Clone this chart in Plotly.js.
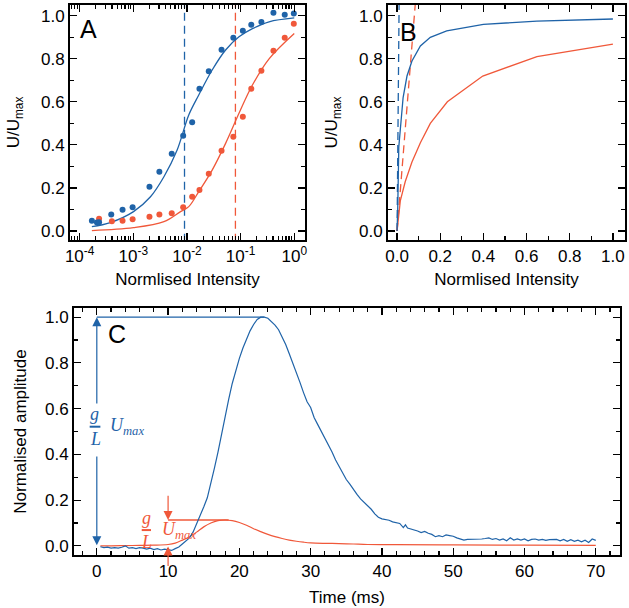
<!DOCTYPE html>
<html><head><meta charset="utf-8">
<script src="https://cdn.plot.ly/plotly-3.0.1.min.js"></script>
<style>html,body{margin:0;padding:0;background:#fff}</style>
</head><body><div id="chart" style="width:629px;height:608px"></div>
<script>
// ---------- Panel A (log intensity) ----------
const aBlueX = [1.69e-4, 2.1e-4, 2.3e-4, 3.88e-4, 6.3e-4, 9.7e-4, 2.0e-3, 3.06e-3, 5.2e-3, 8.5e-3, 0.0125, 0.0171, 0.0255, 0.0441, 0.0731, 0.110, 0.158, 0.244, 0.409, 0.664, 0.98];
const aBlueY = [0.048, 0.039, 0.040, 0.077, 0.099, 0.110, 0.206, 0.275, 0.359, 0.443, 0.505, 0.661, 0.742, 0.842, 0.898, 0.930, 0.958, 0.971, 1.014, 1.005, 1.011];
const aRedX = [2.3e-4, 3.99e-4, 6.3e-4, 9.7e-4, 2.0e-3, 3.06e-3, 5.2e-3, 8.5e-3, 0.0125, 0.0171, 0.0255, 0.0441, 0.0731, 0.110, 0.158, 0.244, 0.409, 0.664, 0.98];
const aRedY = [0.057, 0.045, 0.048, 0.054, 0.066, 0.076, 0.082, 0.110, 0.159, 0.190, 0.266, 0.373, 0.438, 0.531, 0.661, 0.745, 0.837, 0.898, 0.963];
const aBlueFitX = [1.69e-4, 3.72e-4, 1.01e-3, 2.09e-3, 3.72e-3, 6.56e-3, 0.0108, 0.0166, 0.0295, 0.0525, 0.0933, 0.166, 0.339, 1.0];
const aBlueFitY = [0.020, 0.039, 0.090, 0.159, 0.252, 0.376, 0.539, 0.632, 0.748, 0.841, 0.902, 0.940, 0.972, 0.990];
const aRedFitX = [1.69e-4, 1.01e-3, 3.72e-3, 7.59e-3, 0.0108, 0.0166, 0.0295, 0.0525, 0.0933, 0.166, 0.339, 1.0];
const aRedFitY = [0.002, 0.015, 0.043, 0.090, 0.113, 0.183, 0.283, 0.407, 0.547, 0.678, 0.800, 0.918];
const halfBlue = 0.009;   // half-saturation intensity, blue
const halfRed = 0.08;     // half-saturation intensity, red
const aTickVals = [1e-4, 1e-3, 1e-2, 1e-1, 1];
const aTickText = ['10<sup>-4</sup>', '10<sup>-3</sup>', '10<sup>-2</sup>', '10<sup>-1</sup>', '10<sup>0</sup>'];

// ---------- Panel B (linear intensity) ----------
const bBlueX = [0, 0.003, 0.008, 0.019, 0.028, 0.046, 0.069, 0.108, 0.154, 0.230, 0.400, 0.648, 1.0];
const bBlueY = [0, 0.10, 0.39, 0.53, 0.62, 0.72, 0.79, 0.86, 0.90, 0.93, 0.96, 0.975, 0.985];
const bRedX = [0, 0.015, 0.038, 0.069, 0.108, 0.154, 0.233, 0.397, 0.648, 1.0];
const bRedY = [0, 0.14, 0.23, 0.32, 0.41, 0.50, 0.60, 0.72, 0.81, 0.868];

// ---------- Panel C (time course) ----------
const cBlueT = [0.5,1,1.5,2,2.5,3,3.5,4,4.5,5,5.5,6,6.5,7,7.5,8,8.5,9,9.5,10,10.5,11,11.5,12,12.5,13,13.5,14,14.5,15,15.5,16,16.5,17,17.5,18,18.5,19,19.5,20,20.5,21,21.5,22,22.5,23,23.5,24,24.5,25,25.5,26,26.5,27,27.5,28,28.5,29,29.5,30,30.5,31,31.5,32,32.5,33,33.5,34,34.5,35,35.5,36,36.5,37,37.5,38,38.5,39,39.5,40,40.5,41,41.5,42,42.5,43,43.3,43.6,44,44.5,45,45.5,46,46.5,47,47.5,48,48.5,49,49.5,50,50.5,51,51.5,52,52.5,53,53.5,54,54.5,55,55.5,56,56.5,57,57.5,58,58.5,59,59.5,60,60.5,61,61.5,62,62.5,63,63.5,64,64.5,65,65.5,66,66.5,67,67.5,68,68.5,69,69.5,70];
const cBlueY = [-0.004,-0.008,-0.006,-0.010,-0.008,-0.010,-0.006,0.000,-0.010,-0.008,-0.012,-0.008,-0.010,-0.014,-0.010,-0.016,-0.012,-0.018,-0.014,-0.018,-0.020,-0.012,-0.005,0.008,0.020,0.035,0.060,0.095,0.130,0.170,0.210,0.270,0.340,0.410,0.490,0.560,0.640,0.710,0.770,0.820,0.865,0.905,0.940,0.968,0.990,1.000,1.000,0.995,0.980,0.965,0.945,0.915,0.880,0.840,0.800,0.755,0.715,0.670,0.630,0.605,0.560,0.530,0.500,0.470,0.445,0.410,0.375,0.345,0.320,0.290,0.270,0.245,0.225,0.205,0.190,0.175,0.160,0.140,0.125,0.118,0.115,0.112,0.105,0.100,0.098,0.080,0.092,0.078,0.075,0.068,0.065,0.058,0.063,0.055,0.050,0.040,0.045,0.040,0.048,0.045,0.042,0.035,0.030,0.025,0.028,0.028,0.027,0.030,0.030,0.032,0.035,0.028,0.032,0.025,0.030,0.022,0.035,0.025,0.030,0.025,0.030,0.022,0.028,0.030,0.025,0.028,0.024,0.027,0.026,0.028,0.022,0.028,0.020,0.027,0.020,0.025,0.018,0.025,0.015,0.030,0.024];
const cRedT = [0.5,2,4,6,8,10,11,12,13,14,15,16,17,18,19,20,21,22,23,24,25,26,27,28,29,30,32,34,36,38,42,50,60,70];
const cRedY = [0.000,0.000,0.001,0.002,0.003,0.006,0.012,0.025,0.040,0.060,0.083,0.100,0.110,0.113,0.110,0.102,0.090,0.075,0.062,0.050,0.040,0.032,0.025,0.020,0.016,0.013,0.011,0.010,0.008,0.006,0.005,0.004,0.003,0.002];
const peakBlueT = 23.5, peakBlueY = 1.0;
const peakRedT = 18.5, peakRedY = 0.113;
const markT = 10;   // time of red arrows

const BLUE = '#1f63a8';
const RED = '#f0583a';
const FONT = 'Liberation Sans, Arial, Helvetica, sans-serif';
const SERIF = 'Liberation Serif, Times New Roman, serif';

const traces = [
  // Panel A
  {x:[halfBlue,halfBlue], y:[-0.05,1.06], xaxis:'x', yaxis:'y', mode:'lines', line:{color:BLUE, width:1.3, dash:'8px,5px'}},
  {x:[halfRed,halfRed], y:[-0.05,1.06], xaxis:'x', yaxis:'y', mode:'lines', line:{color:RED, width:1.3, dash:'8px,5px'}},
  {x:aRedFitX, y:aRedFitY, xaxis:'x', yaxis:'y', mode:'lines', line:{color:RED, width:1.3, shape:'spline'}},
  {x:aBlueFitX, y:aBlueFitY, xaxis:'x', yaxis:'y', mode:'lines', line:{color:BLUE, width:1.3, shape:'spline'}},
  {x:aRedX, y:aRedY, xaxis:'x', yaxis:'y', mode:'markers', marker:{color:RED, size:6}},
  {x:aBlueX, y:aBlueY, xaxis:'x', yaxis:'y', mode:'markers', marker:{color:BLUE, size:6}},
  // invisible carrier for the minor-tick overlay axis of panel A
  {x:aBlueX, y:aBlueY, xaxis:'x4', yaxis:'y', mode:'markers', marker:{color:BLUE, size:1, opacity:0}},
  // Panel B
  {x:[0, halfBlue*1.06], y:[0, 1.06], xaxis:'x2', yaxis:'y2', mode:'lines', line:{color:BLUE, width:1.3, dash:'8px,5px'}},
  {x:[0, halfRed*1.06], y:[0, 1.06], xaxis:'x2', yaxis:'y2', mode:'lines', line:{color:RED, width:1.3, dash:'8px,5px'}},
  {x:bRedX, y:bRedY, xaxis:'x2', yaxis:'y2', mode:'lines', line:{color:RED, width:1.3}},
  {x:bBlueX, y:bBlueY, xaxis:'x2', yaxis:'y2', mode:'lines', line:{color:BLUE, width:1.3}},
  // Panel C
  {x:[0, peakBlueT], y:[peakBlueY, peakBlueY], xaxis:'x3', yaxis:'y3', mode:'lines', line:{color:BLUE, width:1.2}},
  {x:[markT, peakRedT], y:[peakRedY, peakRedY], xaxis:'x3', yaxis:'y3', mode:'lines', line:{color:RED, width:1.4}},
  {x:cRedT, y:cRedY, xaxis:'x3', yaxis:'y3', mode:'lines', line:{color:RED, width:1.2, shape:'spline'}},
  {x:cBlueT, y:cBlueY, xaxis:'x3', yaxis:'y3', mode:'lines', line:{color:BLUE, width:1.2}}
];
traces.forEach(t => { t.showlegend = false; t.hoverinfo = 'skip'; });

const tickFont = {family:FONT, size:17, color:'black'};
const titleFont = {family:FONT, size:17, color:'black'};
function ax(extra) {
  return Object.assign({
    showline:true, linecolor:'black', linewidth:2, mirror:'ticks',
    ticks:'inside', ticklen:7, tickwidth:1.2, tickcolor:'black',
    showgrid:false, zeroline:false, tickfont:tickFont, automargin:false
  }, extra);
}
const minorLin = d => ({ticks:'inside', ticklen:4, tickwidth:1.2, tickcolor:'black', dtick:d, showgrid:false});

const logMinor = [];
for (let e = -5; e <= 0; e++) for (let m = 2; m <= 9; m++) logMinor.push(m * Math.pow(10, e));

const aDomX = [70/629, 305/629];
const layout = {
  width:629, height:608, margin:{l:0, r:0, t:0, b:0},
  paper_bgcolor:'white', plot_bgcolor:'white', showlegend:false,
  font:{family:FONT, color:'black'},
  xaxis: ax({domain:aDomX, anchor:'y', type:'log', range:[-4.18, 0.2],
    tickmode:'array', tickvals:aTickVals, ticktext:aTickText,
    title:{text:'Normlised Intensity', font:titleFont, standoff:8}}),
  xaxis4: ax({domain:aDomX, anchor:'y', overlaying:'x', type:'log', range:[-4.18, 0.2],
    tickmode:'array', tickvals:logMinor, ticklen:4, showticklabels:false}),
  yaxis: ax({domain:[1-240/608, 1-5/608], anchor:'x', range:[-0.042, 1.05], dtick:0.2, tickformat:'.1f',
    minor:minorLin(0.1), title:{text:'U/U<sub>max</sub>', font:titleFont, standoff:17}}),
  xaxis2: ax({domain:[388/629, 625/629], anchor:'y2', range:[-0.042, 1.056], dtick:0.2, tickformat:'.1f',
    minor:minorLin(0.1), title:{text:'Normlised Intensity', font:titleFont, standoff:8}}),
  yaxis2: ax({domain:[1-240/608, 1-5/608], anchor:'x2', range:[-0.042, 1.05], dtick:0.2, tickformat:'.1f',
    minor:minorLin(0.1), title:{text:'U/U<sub>max</sub>', font:titleFont, standoff:17}}),
  xaxis3: ax({domain:[74/629, 620/629], anchor:'y3', range:[-3.2, 73.4], dtick:10,
    minor:minorLin(2), title:{text:'Time (ms)', font:titleFont, standoff:11}}),
  yaxis3: ax({domain:[1-555/608, 1-308/608], anchor:'x3', range:[-0.04, 1.04], dtick:0.2, tickformat:'.1f',
    minor:minorLin(0.1), title:{text:'Normalised amplitude', font:titleFont, standoff:14}}),
  shapes: [
    {type:'line', xref:'x3', yref:'y3', x0:-1.0, x1:0.5, y0:0.521, y1:0.521, line:{color:BLUE, width:2}},
    {type:'line', xref:'x3', yref:'y3', x0:6.3, x1:7.6, y0:0.069, y1:0.069, line:{color:RED, width:2}}
  ],
  annotations: [
    {xref:'paper', yref:'paper', x:88.5/629, y:1-29/608, xanchor:'center', yanchor:'middle', text:'A', showarrow:false, font:{family:FONT, size:25, color:'black'}},
    {xref:'paper', yref:'paper', x:408.5/629, y:1-32.5/608, xanchor:'center', yanchor:'middle', text:'B', showarrow:false, font:{family:FONT, size:25, color:'black'}},
    {xref:'paper', yref:'paper', x:117/629, y:1-333.5/608, xanchor:'center', yanchor:'middle', text:'C', showarrow:false, font:{family:FONT, size:25, color:'black'}},
    // blue double arrow (split around the label)
    {xref:'x3', yref:'y3', axref:'x3', ayref:'y3', x:0, y:1.0, ax:0, ay:0.616, text:'', showarrow:true, arrowhead:2, arrowsize:1.5, arrowwidth:1.2, arrowcolor:BLUE},
    {xref:'x3', yref:'y3', axref:'x3', ayref:'y3', x:0, y:0.003, ax:0, ay:0.397, text:'', showarrow:true, arrowhead:2, arrowsize:1.5, arrowwidth:1.2, arrowcolor:BLUE},
    // red arrows
    {xref:'x3', yref:'y3', axref:'x3', ayref:'y3', x:markT, y:0.113, ax:markT, ay:0.226, text:'', showarrow:true, arrowhead:2, arrowsize:1.5, arrowwidth:1.2, arrowcolor:RED},
    {xref:'x3', yref:'y3', axref:'x3', ayref:'y3', x:markT, y:-0.003, ax:markT, ay:-0.095, text:'', showarrow:true, arrowhead:2, arrowsize:1.5, arrowwidth:1.2, arrowcolor:RED},
    // blue label g/L U_max
    {xref:'x3', yref:'y3', x:-0.3, y:0.578, xanchor:'center', yanchor:'middle', text:'<i>g</i>', showarrow:false, font:{family:SERIF, size:18, color:BLUE}},
    {xref:'x3', yref:'y3', x:-0.24, y:0.468, xanchor:'center', yanchor:'middle', text:'<i>L</i>', showarrow:false, font:{family:SERIF, size:18, color:BLUE}},
    {xref:'x3', yref:'y3', x:1.5, xanchor:'left', yanchor:'middle', y:0.52, text:'<i>U</i><sub><i>max</i></sub>', showarrow:false, font:{family:SERIF, size:18, color:BLUE}},
    // red label g/L U_max
    {xref:'x3', yref:'y3', x:6.95, y:0.122, xanchor:'center', yanchor:'middle', text:'<i>g</i>', showarrow:false, font:{family:SERIF, size:18, color:RED}},
    {xref:'x3', yref:'y3', x:6.95, y:0.016, xanchor:'center', yanchor:'middle', text:'<i>L</i>', showarrow:false, font:{family:SERIF, size:18, color:RED}},
    {xref:'x3', yref:'y3', x:8.8, xanchor:'left', yanchor:'middle', y:0.066, text:'<i>U</i><sub><i>max</i></sub>', showarrow:false, font:{family:SERIF, size:18, color:RED}}
  ]
};

Plotly.newPlot('chart', traces, layout, {staticPlot:true, displayModeBar:false});
</script>
</body></html>
